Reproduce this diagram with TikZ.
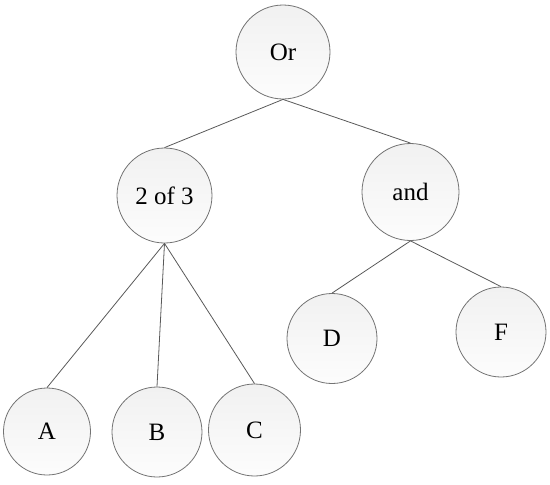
\documentclass[tikz,border=0pt]{standalone}
\usepackage{fontspec}
\setmainfont{Liberation Serif}
\tikzset{
  gate/.style={circle, draw=black!55, top color=gray!11, bottom color=gray!2,
    line width=0.8pt, minimum size=91pt, inner sep=0pt,
    font=\fontsize{25}{27}\selectfont},
  wire/.style={draw=black!65, line width=0.8pt}
}
\begin{document}
\begin{tikzpicture}[x=1pt, y=-1pt]
      \useasboundingbox (0, 0) rectangle (550, 485);
      \begin{scope}
        \node[gate, minimum size=94pt] (or) at (283, 52) {Or};
        \node[gate, minimum size=95pt] (twoofthree) at (164.5, 195.5) {2 of 3};
        \node[gate, minimum size=97pt] (and) at (410.5, 192) {and};
        \node[gate, minimum size=90pt] (d) at (332, 338.5) {D};
        \node[gate, minimum size=90pt] (f) at (501, 332) {F};
        \node[gate, minimum size=87pt] (a) at (47, 431.5) {A};
        \node[gate, minimum size=90pt] (b) at (157, 432) {B};
        \node[gate, minimum size=92pt] (c) at (254.5, 430) {C};
        \draw[wire] (or.south) -- (twoofthree.north);
        \draw[wire] (or.south) -- (and.north);
        \draw[wire] (twoofthree.south) -- (a.north);
        \draw[wire] (twoofthree.south) -- (b.north);
        \draw[wire] (twoofthree.south) -- (c.north);
        \draw[wire] (and.south) -- (d.north);
        \draw[wire] (and.south) -- (f.north);
      \end{scope}
    \end{tikzpicture}
\end{document}
